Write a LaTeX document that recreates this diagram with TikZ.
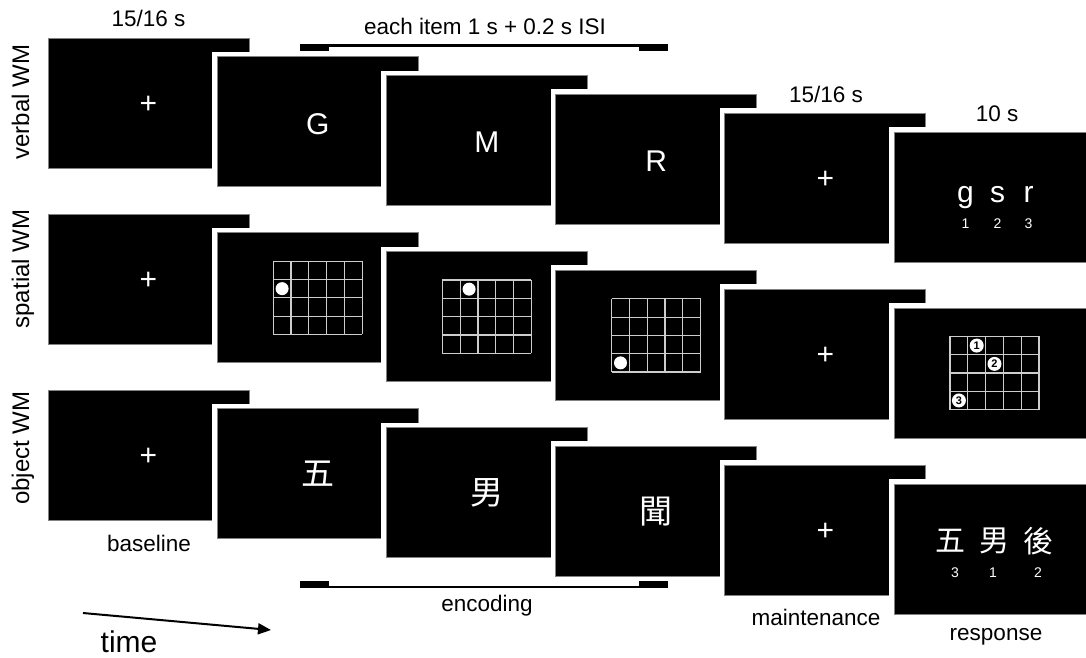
\documentclass[tikz,border=0pt]{standalone}
\usepackage{fontspec}
\setmainfont{Liberation Sans}
\newfontfamily\cjk{Noto Sans CJK TC}
\usetikzlibrary{calc,math,arrows.meta}
\definecolor{gridgray}{RGB}{205,205,205}
\definecolor{rimgray}{RGB}{130,130,130}

\tikzset{
  screen/.style={rectangle, fill=black, draw=rimgray, line width=0.8pt,
    minimum width=201pt, minimum height=130pt, inner sep=0pt,
    preaction={draw=white, line width=10pt}},
  lbl/.style={font=\fontsize{22.5}{27}\selectfont, inner sep=0pt, anchor=base},
  rowlbl/.style={lbl, font=\fontsize{24}{28}\selectfont, rotate=90},
  stim/.style={text=white, font=\fontsize{30}{36}\selectfont, inner sep=0pt},
  kanji/.style={text=white, font=\cjk\fontsize{33}{36}\selectfont, inner sep=0pt},
  small/.style={text=white, font=\fontsize{14}{16}\selectfont, inner sep=0pt, anchor=base},
  gridline/.style={draw=gridgray, line width=1.2pt},
  dot/.style={circle, fill=white, minimum size=13pt, inner sep=0pt},
  numdot/.style={dot, minimum size=14pt, font=\fontsize{11}{12}\selectfont\bfseries},
}

\begin{document}
\begin{tikzpicture}[x=1pt, y=-1pt]
\tikzmath{
\W=201;
\H=130;
\dx=169.2;
\dy=18.8;
\rowgap=176;
\cw=17.8;
\ch=18.3;
}
\useasboundingbox (0,0) rectangle (1086,657);
\clip (0,0) rectangle (1086,657);

% screens, later ones on top
\foreach \r in {1,2,3}{
  \foreach \i in {0,...,5}{
    \node[screen] (scr-\r-\i) at ({48+\dx*\i+\W/2},{38+\rowgap*(\r-1)+\dy*\i+\H/2}) {};
  }
}

% fixation crosses
\foreach \r in {1,2,3}{
  \foreach \i in {0,4}{
    \node[stim] (fix-\r-\i) at ($(scr-\r-\i)+(0,2)$) {+};
  }
}

% verbal
\foreach \i/\t in {1/G,2/M,3/R}{
  \node[stim] (let-\i) at ($(scr-1-\i)+(0,2)$) {\t};
}
\foreach \k/\t/\n/\ox in {1/g/1/-29,2/s/2/3,3/r/3/34}{
  \node[stim, anchor=base] (probe-\k) at ($(scr-1-5)+(\ox,5)$) {\t};
  \node[small] (pnum-\k) at ($(scr-1-5)+(\ox,31)$) {\n};
}

% spatial grids
\foreach \i in {1,2,3,5}{
  \begin{scope}[shift={($(scr-2-\i.center)+(-44.5,-36.6)$)}, x=\cw pt, y=-\ch pt]
    \foreach \c in {0,...,5} \draw[gridline] (\c,0) -- (\c,4);
    \foreach \rr in {0,...,4} \draw[gridline] (0,\rr) -- (5,\rr);
  \end{scope}
}
\foreach \i/\c/\rr in {1/0/1,2/1/0,3/0/3}{
  \node[dot] (dot-\i) at ($(scr-2-\i.center)+(-44.5,-36.6)+({(\c+0.5)*\cw},{(\rr+0.5)*\ch})$) {};
}
\foreach \n/\c/\rr in {1/1/0,2/2/1,3/0/3}{
  \node[numdot] (num-\n) at ($(scr-2-5.center)+(-44.5,-36.6)+({(\c+0.5)*\cw},{(\rr+0.5)*\ch})$) {\n};
}

% object
\node[kanji] (obj-1) at (scr-3-1) {五};
\node[kanji] (obj-2) at (scr-3-2) {男};
\node[kanji] (obj-3) at (scr-3-3) {聞};
\foreach \k/\t/\n/\ox/\nx in {1/五/3/-44.5/-39.5,2/男/1/-0.5/-1.5,3/後/2/43.5/43.5}{
  \node[kanji, font=\cjk\fontsize{30}{34}\selectfont] (resp-\k) at ($(scr-3-5)+(\ox,-8)$) {\t};
  \node[small] (rnum-\k) at ($(scr-3-5)+(\nx,28)$) {\n};
}

% timing brackets
\fill (300,44) rectangle (668,46.5);
\fill (300,44) rectangle (329,51);
\fill (639,44) rectangle (668,51);
\fill (300,585.5) rectangle (668,588);
\fill (300,581) rectangle (329,588);
\fill (639,581) rectangle (668,588);

% labels
\node[lbl] (dur-base) at (148.5,26) {15/16 s};
\node[lbl] (dur-item) at (485,34) {each item 1 s + 0.2 s ISI};
\node[lbl] (dur-main) at (826,102) {15/16 s};
\node[lbl] (dur-resp) at (997,121) {10 s};
\node[lbl] (ph-base) at (149,551) {baseline};
\node[lbl] (ph-enc) at (487,611) {encoding};
\node[lbl] (ph-main) at (816,625) {maintenance};
\node[lbl] (ph-resp) at (996,640) {response};
\node[rowlbl] (row-1) at (29,102) {verbal WM};
\node[rowlbl] (row-2) at (29,269) {spatial WM};
\node[rowlbl] (row-3) at (29,448) {object WM};

% time arrow
\coordinate (t0) at (83,613);
\coordinate (t1) at (271,630);
\draw[-{Triangle[length=13pt,width=11pt]}, line width=2pt] (t0) -- (t1);
\node[lbl, font=\fontsize{30}{36}\selectfont] (time) at (129,652) {time};
\end{tikzpicture}
\end{document}
